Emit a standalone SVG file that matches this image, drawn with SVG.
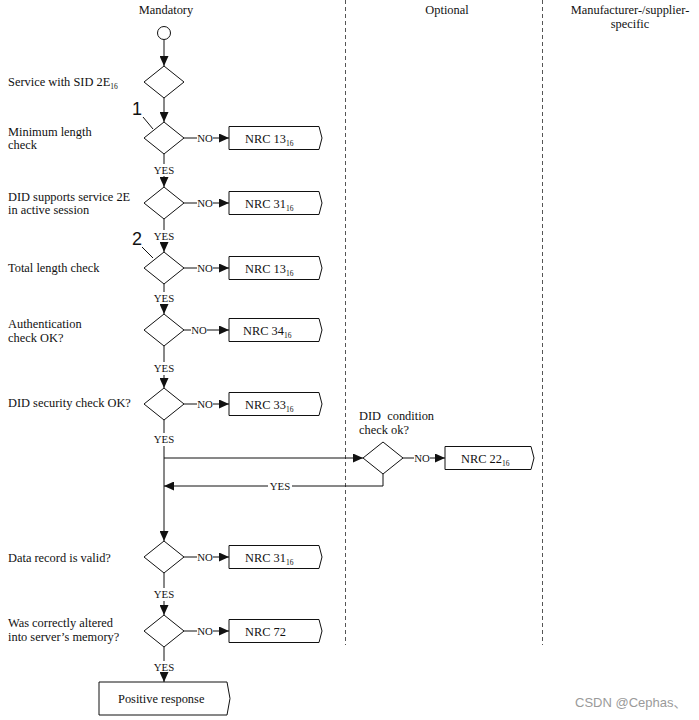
<svg xmlns="http://www.w3.org/2000/svg" width="699" height="720" viewBox="0 0 699 720">
<style>
text{font-family:"Liberation Serif","Times New Roman",serif;fill:#111;}
.t{font-size:12.4px;}
.h{font-size:12.4px;text-anchor:middle;}
.yn{font-size:10.8px;text-anchor:middle;}
.sub{font-size:7.5px;}
.num{font-family:"Liberation Sans",Arial,sans-serif;font-size:18px;}
.ln{stroke:#111;stroke-width:1;fill:none;}
.dash{stroke:#555;stroke-width:1;stroke-dasharray:4 3;fill:none;}
.shape{stroke:#111;stroke-width:1;fill:#fff;}
.wm{font-family:"Liberation Sans","Noto Sans CJK SC",sans-serif;font-size:13px;fill:#9a9a9a;}
</style>
<defs>
<marker id="ah" markerWidth="10" markerHeight="9" refX="10" refY="4.5" orient="auto" markerUnits="userSpaceOnUse"><path d="M0,0 L10,4.5 L0,9 z" fill="#111"/></marker>
<path id="dia" d="M0,-16 L20,0 L0,16 L-20,0 z"/>
<path id="nrc" d="M0,-11.5 L90,-11.5 L93,0 L90,11.5 L0,11.5 z"/>
</defs>
<rect width="699" height="720" fill="#fff"/>

<g id="lanes">
<line class="dash" x1="345.5" y1="0" x2="345.5" y2="645"/>
<line class="dash" x1="542.5" y1="0" x2="542.5" y2="645"/>
<text class="h" x="166" y="14">Mandatory</text>
<text class="h" x="447" y="14">Optional</text>
<text class="h" x="630" y="14">Manufacturer-/supplier-</text>
<text class="h" x="630" y="28">specific</text>
</g>

<g id="connectors">
<line class="ln" x1="164" y1="40" x2="164" y2="66" marker-end="url(#ah)"/>
<line class="ln" x1="164" y1="98" x2="164" y2="122" marker-end="url(#ah)"/>
<line class="ln" x1="164" y1="154" x2="164" y2="164"/>
<line class="ln" x1="164" y1="176" x2="164" y2="187" marker-end="url(#ah)"/>
<line class="ln" x1="164" y1="219" x2="164" y2="230"/>
<line class="ln" x1="164" y1="242" x2="164" y2="252" marker-end="url(#ah)"/>
<line class="ln" x1="164" y1="284" x2="164" y2="292"/>
<line class="ln" x1="164" y1="304" x2="164" y2="314" marker-end="url(#ah)"/>
<line class="ln" x1="164" y1="346" x2="164" y2="362"/>
<line class="ln" x1="164" y1="375" x2="164" y2="388" marker-end="url(#ah)"/>
<line class="ln" x1="164" y1="420" x2="164" y2="433"/>
<line class="ln" x1="164" y1="446" x2="164" y2="541" marker-end="url(#ah)"/>
<line class="ln" x1="164" y1="458" x2="363" y2="458" marker-end="url(#ah)"/>
<polyline class="ln" points="383,474 383,486 292,486"/>
<line class="ln" x1="268" y1="486" x2="164" y2="486" marker-end="url(#ah)"/>
<line class="ln" x1="164" y1="573" x2="164" y2="588"/>
<line class="ln" x1="164" y1="601" x2="164" y2="615" marker-end="url(#ah)"/>
<line class="ln" x1="164" y1="647" x2="164" y2="661"/>
<line class="ln" x1="164" y1="673" x2="164" y2="682" marker-end="url(#ah)"/>
<text class="yn" x="164" y="174">YES</text>
<text class="yn" x="164" y="240">YES</text>
<text class="yn" x="164" y="302">YES</text>
<text class="yn" x="164" y="372">YES</text>
<text class="yn" x="164" y="443">YES</text>
<text class="yn" x="280" y="490">YES</text>
<text class="yn" x="164" y="598">YES</text>
<text class="yn" x="164" y="671">YES</text>
<!-- NO branches -->
<line class="ln" x1="184" y1="138" x2="197" y2="138"/><text class="yn" x="205" y="142">NO</text><line class="ln" x1="213" y1="138" x2="229" y2="138" marker-end="url(#ah)"/>
<line class="ln" x1="184" y1="203" x2="197" y2="203"/><text class="yn" x="205" y="207">NO</text><line class="ln" x1="213" y1="203" x2="229" y2="203" marker-end="url(#ah)"/>
<line class="ln" x1="184" y1="268" x2="197" y2="268"/><text class="yn" x="205" y="272">NO</text><line class="ln" x1="213" y1="268" x2="229" y2="268" marker-end="url(#ah)"/>
<line class="ln" x1="184" y1="330" x2="191" y2="330"/><text class="yn" x="199" y="334">NO</text><line class="ln" x1="207" y1="330" x2="229" y2="330" marker-end="url(#ah)"/>
<line class="ln" x1="184" y1="404" x2="197" y2="404"/><text class="yn" x="205" y="408">NO</text><line class="ln" x1="213" y1="404" x2="229" y2="404" marker-end="url(#ah)"/>
<line class="ln" x1="403" y1="458" x2="414" y2="458"/><text class="yn" x="422" y="462">NO</text><line class="ln" x1="430" y1="458" x2="445" y2="458" marker-end="url(#ah)"/>
<line class="ln" x1="184" y1="557" x2="197" y2="557"/><text class="yn" x="205" y="561">NO</text><line class="ln" x1="213" y1="557" x2="229" y2="557" marker-end="url(#ah)"/>
<line class="ln" x1="184" y1="631" x2="197" y2="631"/><text class="yn" x="205" y="635">NO</text><line class="ln" x1="213" y1="631" x2="229" y2="631" marker-end="url(#ah)"/>
<!-- callouts -->
<line class="ln" x1="143" y1="117" x2="153" y2="129"/>
<text class="num" x="132" y="115">1</text>
<line class="ln" x1="142" y1="247" x2="153" y2="258"/>
<text class="num" x="132" y="245">2</text>
</g>

<g id="start"><circle class="shape" cx="164" cy="33" r="6.5"/></g>

<g id="d1"><use href="#dia" class="shape" x="164" y="82"/><text class="t" x="8" y="86">Service with SID 2E<tspan class="sub" dy="3">16</tspan></text></g>
<g id="d2"><use href="#dia" class="shape" x="164" y="138"/><text class="t" x="8" y="136">Minimum length</text><text class="t" x="8" y="149">check</text></g>
<g id="d3"><use href="#dia" class="shape" x="164" y="203"/><text class="t" x="8" y="201">DID supports service 2E</text><text class="t" x="8" y="214">in active session</text></g>
<g id="d4"><use href="#dia" class="shape" x="164" y="268"/><text class="t" x="8" y="272">Total length check</text></g>
<g id="d5"><use href="#dia" class="shape" x="164" y="330"/><text class="t" x="8" y="328">Authentication</text><text class="t" x="8" y="342">check OK?</text></g>
<g id="d6"><use href="#dia" class="shape" x="164" y="404"/><text class="t" x="8" y="407">DID security check OK?</text></g>
<g id="d7"><use href="#dia" class="shape" x="383" y="458"/><text class="t" x="359" y="420" xml:space="preserve">DID  condition</text><text class="t" x="359" y="434">check ok?</text></g>
<g id="d8"><use href="#dia" class="shape" x="164" y="557"/><text class="t" x="8" y="562">Data record is valid?</text></g>
<g id="d9"><use href="#dia" class="shape" x="164" y="631"/><text class="t" x="8" y="627">Was correctly altered</text><text class="t" x="8" y="641">into server’s memory?</text></g>

<g id="n1"><use href="#nrc" class="shape" x="229" y="138"/><text class="t" x="245" y="143">NRC 13<tspan class="sub" dy="3">16</tspan></text></g>
<g id="n2"><use href="#nrc" class="shape" x="229" y="203"/><text class="t" x="245" y="208">NRC 31<tspan class="sub" dy="3">16</tspan></text></g>
<g id="n3"><use href="#nrc" class="shape" x="229" y="268"/><text class="t" x="245" y="273">NRC 13<tspan class="sub" dy="3">16</tspan></text></g>
<g id="n4"><use href="#nrc" class="shape" x="229" y="330"/><text class="t" x="243" y="335">NRC 34<tspan class="sub" dy="3">16</tspan></text></g>
<g id="n5"><use href="#nrc" class="shape" x="229" y="404"/><text class="t" x="245" y="409">NRC 33<tspan class="sub" dy="3">16</tspan></text></g>
<g id="n6"><path class="shape" d="M445,446.5 L531,446.5 L534,458 L531,469.5 L445,469.5 z"/><text class="t" x="461" y="463">NRC 22<tspan class="sub" dy="3">16</tspan></text></g>
<g id="n7"><use href="#nrc" class="shape" x="229" y="557"/><text class="t" x="245" y="562">NRC 31<tspan class="sub" dy="3">16</tspan></text></g>
<g id="n8"><use href="#nrc" class="shape" x="229" y="631"/><text class="t" x="245" y="636">NRC 72</text></g>

<g id="positive"><path class="shape" d="M99,682 L227,682 L230,698.5 L227,715 L99,715 z"/><text class="t" x="118" y="703">Positive response</text></g>

<text class="wm" x="575" y="707">CSDN @Cephas、</text>
</svg>
